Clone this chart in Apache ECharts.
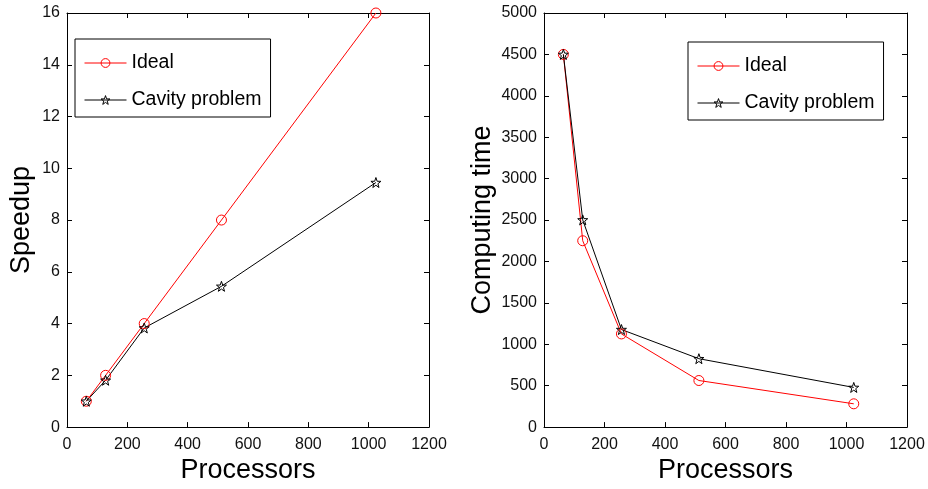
<!DOCTYPE html>
<html><head><meta charset="utf-8">
<script src="https://cdn.jsdelivr.net/npm/echarts@6/dist/echarts.min.js"></script>
<style>html,body{margin:0;padding:0;background:#fff}#c{width:928px;height:489px}</style>
</head><body><div id="c"></div>
<script>
const processors = [64, 128, 256, 512, 1024];
const idealSpeedup = [1, 2, 4, 8, 16];
const cavitySpeedup = [1, 1.81, 3.83, 5.44, 9.45];
const idealTime = [4500, 2250, 1125, 562.5, 281.25];
const cavityTime = [4500, 2502, 1178, 826, 479];
const seriesNames = ['Ideal', 'Cavity problem'];
const seriesColors = ['#ff0000', '#000000'];
const xTitle = 'Processors';
const yTitles = ['Speedup', 'Computing time'];

const FONT = "'Liberation Sans', Arial, sans-serif";
const star = 'path://M0,-10 L2.35,-3.24 L9.51,-3.09 L3.8,1.24 L5.88,8.09 L0,4 L-5.88,8.09 L-3.8,1.24 L-9.51,-3.09 L-2.35,-3.24 Z';
const symbols = ['circle', star];
const pair = (xs, ys) => xs.map((x, i) => [x, ys[i]]);

const chart = echarts.init(document.getElementById('c'), null, {renderer: 'canvas'});
const axisLine = {show: true, onZero: false, lineStyle: {color: '#000', width: 1}};
const tick = {show: true, inside: true, length: 5, lineStyle: {color: '#000'}};
const lbl = {color: '#111', fontSize: 16, fontFamily: FONT, margin: 9, formatter: v => String(v)};

function xAxes(g) {
  return [
    {type: 'value', gridIndex: g, min: 0, max: 1200, interval: 200, position: 'bottom',
     axisLine, axisTick: tick, axisLabel: lbl, splitLine: {show: false},
     name: xTitle, nameLocation: 'middle', nameGap: 25,
     nameTextStyle: {fontSize: 27, color: '#000', fontFamily: FONT}},
    {type: 'value', gridIndex: g, min: 0, max: 1200, interval: 200, position: 'top',
     axisLine, axisTick: tick, axisLabel: {show: false}, splitLine: {show: false}}
  ];
}
function yAxes(g, max, interval, gap) {
  return [
    {type: 'value', gridIndex: g, min: 0, max, interval, position: 'left',
     axisLine, axisTick: tick, axisLabel: Object.assign({}, lbl, {margin: 7}), splitLine: {show: false},
     name: yTitles[g], nameLocation: 'middle', nameGap: gap,
     nameTextStyle: {fontSize: 27, color: '#000', fontFamily: FONT}},
    {type: 'value', gridIndex: g, min: 0, max, interval, position: 'right',
     axisLine, axisTick: tick, axisLabel: {show: false}, splitLine: {show: false}}
  ];
}
function ser(i, ys, g) {
  const color = seriesColors[i];
  return {
    name: seriesNames[i], type: 'line', xAxisIndex: g * 2, yAxisIndex: g * 2, data: pair(processors, ys),
    symbol: symbols[i], symbolSize: 10, showSymbol: true, animation: false,
    lineStyle: {color, width: 1},
    itemStyle: {color: 'rgba(255,255,255,0)', borderColor: color, borderWidth: 1}
  };
}
function legend(left, top) {
  return {
    data: seriesNames.map((n, i) => ({
      name: n,
      itemStyle: {color: 'rgba(255,255,255,0)', borderColor: seriesColors[i], borderWidth: 1},
      lineStyle: {color: seriesColors[i], width: 1}
    })),
    orient: 'vertical', left, top,
    itemWidth: 42, itemHeight: 11, itemGap: 17,
    padding: [14, 9, 7, 9],
    borderColor: '#000', borderWidth: 1, backgroundColor: '#fff',
    textStyle: {fontSize: 19.5, fontFamily: FONT, color: '#000'}
  };
}

chart.setOption({
  animation: false,
  grid: [
    {left: 67, top: 13, width: 362, height: 418},
    {left: 544, top: 13, width: 363, height: 418}
  ],
  xAxis: [...xAxes(0), ...xAxes(1)],
  yAxis: [...yAxes(0, 16, 2, 32), ...yAxes(1, 5000, 500, 48)],
  legend: [legend(75, 39), legend(688, 42)],
  series: [
    ser(0, idealSpeedup, 0),
    ser(1, cavitySpeedup, 0),
    ser(0, idealTime, 1),
    ser(1, cavityTime, 1)
  ]
});
</script></body></html>
